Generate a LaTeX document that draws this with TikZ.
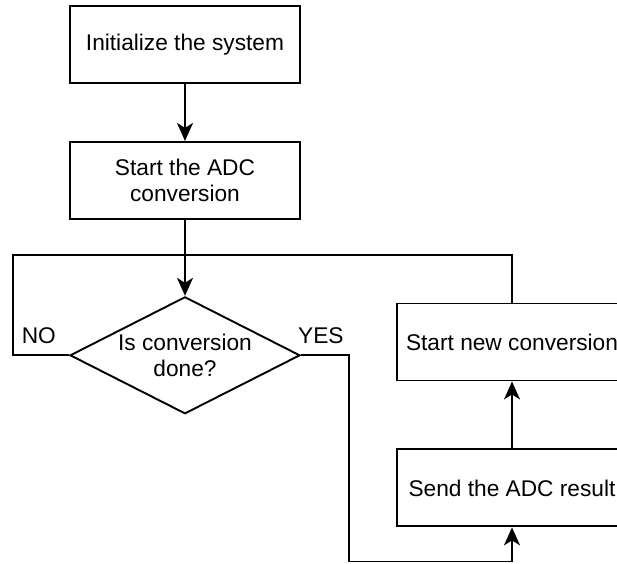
\documentclass[tikz,border=0pt]{standalone}
\usepackage{fontspec}
\setmainfont{Liberation Sans}
\usepackage{tikz}
\usetikzlibrary{positioning,shapes.geometric,arrows.meta}

\begin{document}
\begin{tikzpicture}[
  x=1pt, y=1pt,
  every node/.style={font=\fontsize{22.7}{26}\selectfont},
  proc/.style={draw, line width=1.9pt, minimum width=230pt,
               minimum height=77pt, align=center, inner sep=0pt},
  dec/.style={draw, line width=1.9pt, diamond, aspect=1.97,
              minimum width=230pt, minimum height=117pt,
              align=center, inner sep=0pt},
  arr/.style={-{Stealth[length=18pt, width=16pt, inset=5pt]}, line width=1.9pt},
  link/.style={line width=1.9pt},
  lbl/.style={inner sep=0pt}
]
\useasboundingbox (0,0) rectangle (617,563);
\clip (0,0) rectangle (617,563);

%% --- Main column ----------------------------------------------
\node[proc] (init) at (185,518.5) {Initialize the system};

\node[proc, below=57pt of init] (adc)
     {Start the ADC\\conversion};

\node[dec, below=76pt of adc] (done)
     {Is conversion\\done?};

%% --- Right column ---------------------------------------------
\node[proc] (newconv) at (512,221) {Start new conversion};

\node[proc, below=67pt of newconv] (send) {Send the ADC result};

%% --- Turning points -------------------------------------------
\coordinate (loopL) at (13,308);
\coordinate (yesB)  at (349,1.5);

%% --- Connectors -----------------------------------------------
\draw[arr] (init) -- (adc);
\draw[arr] (adc) -- (done);
\draw[link] (done.west) -| (loopL) -| (newconv.north);
\draw[arr] (done.east) -| (yesB) -| (send.south);
\draw[arr] (send) -- (newconv);

%% --- Branch labels --------------------------------------------
\node[lbl, anchor=base east] (no)  at ([xshift=-13pt, yshift=12pt]done.west) {NO};
\node[lbl, anchor=base west] (yes) at ([xshift=-3pt, yshift=12pt]done.east) {YES};

\end{tikzpicture}
\end{document}
